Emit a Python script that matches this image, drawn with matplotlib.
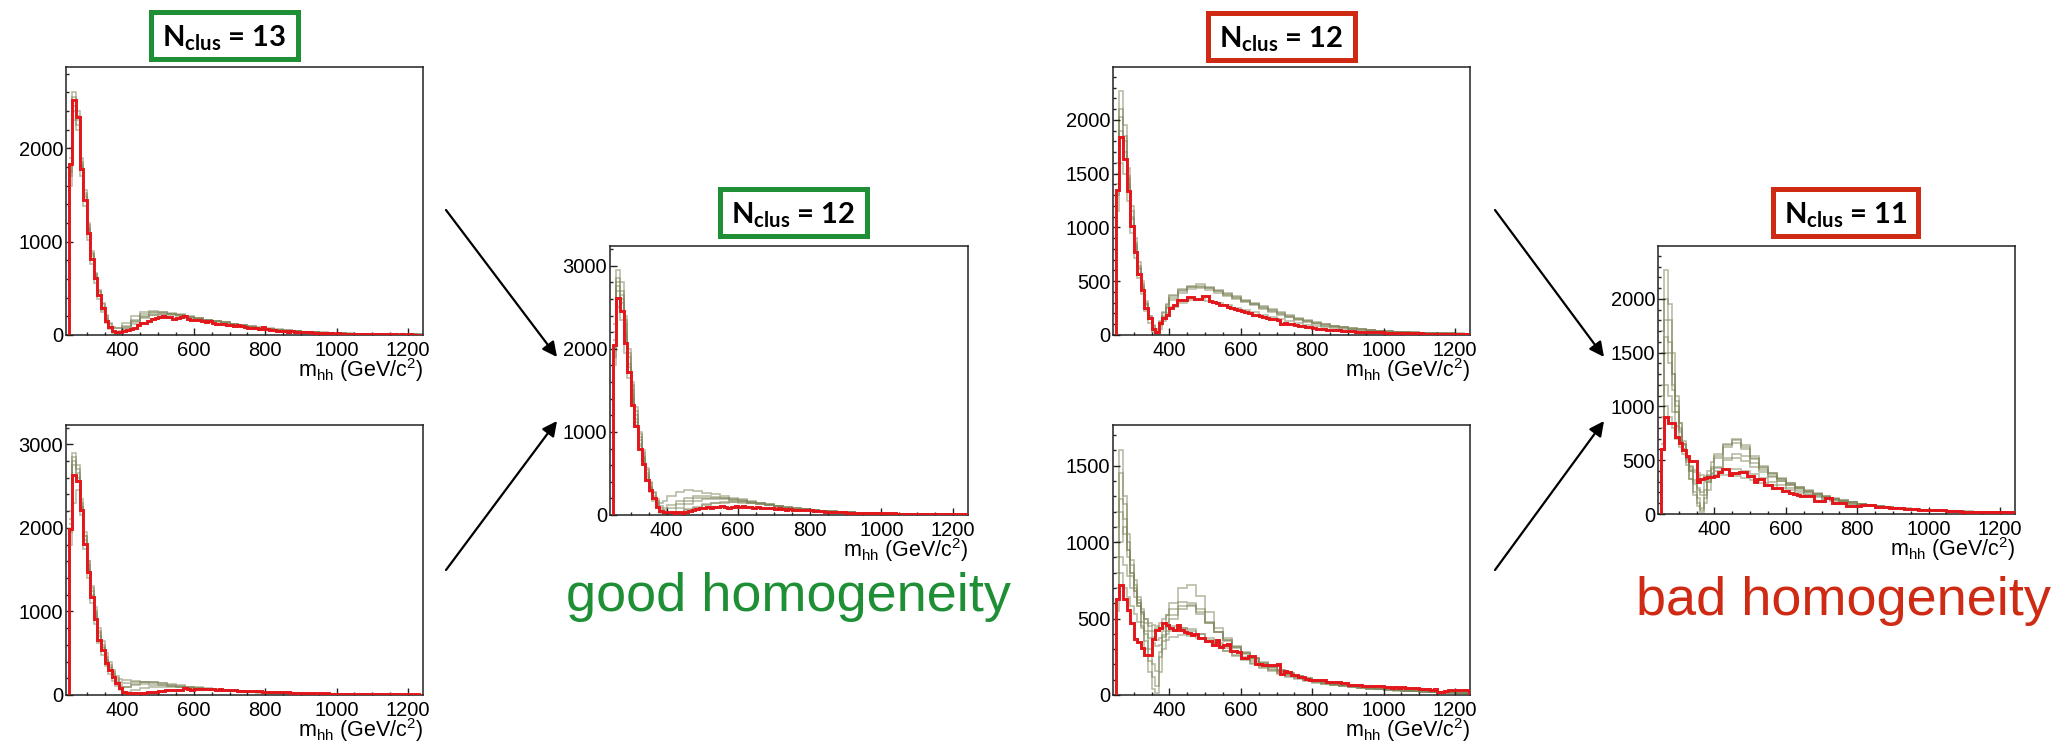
import numpy as np
import matplotlib
matplotlib.use("Agg")
import matplotlib.pyplot as plt
from matplotlib.ticker import MultipleLocator, FixedLocator
from matplotlib.patches import Rectangle, FancyArrowPatch

plt.rcParams['font.family'] = ['Liberation Sans', 'DejaVu Sans']

W, H = 2056, 747

# ---------------- data ----------------
red_edges = np.arange(250, 1241, 10)                                   # 99 bins
gray_edges = np.r_[np.arange(250, 400, 10), np.arange(400, 1251, 25)]  # 49 bins

x_ticks = [400, 600, 800, 1000, 1200]
x_label = r'm$_{\mathregular{hh}}$ (GeV/c$^{\mathregular{2}}$)'

# Panel 1 : N_clus = 13 (top left)
p1_red = [1830, 2520, 2330, 1780, 1450, 1090, 810, 610, 430, 290,
          145, 90, 40, 35, 30, 40, 55, 60, 80, 110,
          125, 130, 150, 175, 180, 195, 200, 195, 190, 170,
          180, 195, 200, 175, 165, 160, 165, 150, 140, 145,
          130, 120, 115, 120, 110, 110, 100, 105, 95, 90,
          80, 75, 80, 60, 85, 60, 55, 50, 45, 40,
          45, 35, 38, 35, 32, 30, 28, 30, 25, 22,
          20, 22, 18, 20, 15, 18, 15, 12, 14, 12,
          10, 12, 10, 9, 12, 10, 8, 7, 8, 6,
          7, 6, 5, 6, 5, 6, 4, 5, 4]
p1_gray = [
    [1750, 2600, 2400, 1900, 1550, 1200, 900, 650, 470, 330, 200, 120, 80, 70, 80,
     130, 200, 250, 260, 250, 235, 220, 200, 185, 165, 150, 135, 120, 105, 92, 80, 68, 58, 50, 43,
     37, 32, 27, 23, 20, 17, 15, 13, 11, 10, 9, 8, 7, 6],
    [1600, 2300, 2250, 1850, 1500, 1150, 870, 640, 460, 300, 170, 90, 40, 30, 40,
     90, 160, 220, 250, 245, 230, 215, 195, 175, 160, 145, 130, 115, 100, 88, 76, 64, 55, 47, 40,
     34, 29, 25, 21, 18, 16, 14, 12, 10, 9, 8, 7, 6, 5],
    [1900, 2450, 2200, 1700, 1380, 1020, 760, 560, 390, 250, 130, 60, 20, 10, 20,
     60, 120, 180, 210, 215, 210, 200, 185, 170, 155, 140, 125, 110, 95, 82, 70, 60, 51, 44, 38,
     32, 27, 23, 20, 17, 15, 13, 11, 10, 9, 8, 7, 6, 5],
    [2000, 2550, 2350, 1800, 1480, 1130, 850, 620, 420, 270, 150, 80, 40, 25, 30,
     70, 140, 200, 235, 240, 230, 210, 195, 180, 165, 150, 135, 120, 105, 90, 78, 66, 56, 48, 41,
     35, 30, 26, 22, 19, 16, 14, 12, 11, 10, 8, 7, 6, 5],
    [1700, 2400, 2300, 1820, 1520, 1180, 880, 660, 480, 340, 210, 130, 90, 80, 70,
     100, 150, 190, 215, 225, 220, 210, 195, 180, 165, 150, 137, 122, 108, 95, 82, 70, 60, 50, 43,
     37, 31, 26, 22, 19, 16, 14, 12, 11, 10, 9, 8, 7, 6],
]

# Panel 2 : (bottom left)
p2_red = [1990, 2630, 2560, 2210, 1810, 1475, 1175, 915, 660, 540,
          380, 300, 220, 140, 80, 40, 28, 25, 25, 28,
          22, 25, 30, 35, 40, 45, 50, 55, 60, 65,
          55, 60, 85, 70, 65, 70, 75, 70, 72, 75,
          70, 65, 68, 62, 60, 55, 58, 52, 50, 48,
          50, 45, 42, 45, 40, 38, 36, 35, 33, 32,
          30, 30, 28, 27, 26, 25, 24, 23, 22, 21,
          20, 19, 18, 17, 17, 16, 15, 15, 14, 13,
          13, 12, 12, 11, 11, 10, 10, 9, 9, 8,
          8, 8, 7, 7, 7, 6, 6, 6, 5]
p2_gray = [
    [2100, 2900, 2750, 2350, 1950, 1600, 1300, 1050, 800, 650, 500, 400, 300, 230, 190,
     180, 170, 160, 150, 140, 130, 115, 100, 90, 80, 70, 60, 52, 45, 39, 34, 30, 27, 24, 21,
     19, 17, 15, 13, 12, 11, 10, 9, 8, 7, 7, 6, 5, 5],
    [1800, 2750, 2700, 2300, 1900, 1550, 1250, 980, 740, 580, 420, 320, 220, 150, 100,
     90, 120, 130, 125, 115, 105, 95, 85, 75, 66, 58, 50, 44, 38, 33, 29, 26, 23, 20, 18,
     16, 14, 13, 12, 11, 10, 9, 8, 7, 7, 6, 5, 5, 4],
    [2200, 2850, 2600, 2150, 1750, 1400, 1100, 850, 620, 480, 350, 250, 170, 110, 60,
     40, 60, 80, 95, 100, 98, 92, 85, 78, 70, 62, 55, 48, 42, 37, 32, 28, 25, 22, 19,
     17, 15, 13, 12, 11, 10, 9, 8, 7, 6, 6, 5, 5, 4],
    [1950, 2300, 2450, 2250, 1900, 1600, 1280, 1000, 760, 600, 460, 360, 270, 200, 150,
     140, 150, 155, 150, 140, 125, 110, 95, 82, 72, 63, 55, 48, 42, 36, 31, 27, 24, 21, 18,
     16, 14, 12, 11, 10, 9, 8, 7, 7, 6, 5, 5, 4, 4],
    [2050, 2800, 2650, 2250, 1850, 1500, 1200, 940, 700, 560, 420, 330, 250, 180, 120,
     100, 130, 150, 140, 125, 112, 100, 90, 80, 70, 62, 54, 47, 41, 36, 31, 27, 24, 21, 18,
     16, 14, 13, 12, 11, 10, 9, 8, 7, 6, 6, 5, 5, 4],
]

# Panel 3 : N_clus = 12 (good, middle)
p3_red = [2050, 2615, 2450, 2065, 1725, 1325, 1065, 800, 615, 420,
          300, 200, 100, 50, 40, 35, 35, 30, 40, 25,
          40, 50, 60, 70, 80, 90, 95, 90, 100, 95,
          105, 100, 90, 95, 110, 100, 105, 95, 100, 90,
          95, 85, 90, 80, 85, 75, 80, 70, 65, 70,
          60, 65, 55, 60, 55, 60, 50, 45, 45, 40,
          40, 38, 35, 35, 32, 30, 30, 28, 27, 26,
          25, 24, 24, 23, 22, 22, 20, 20, 19, 18,
          17, 16, 16, 15, 14, 14, 13, 13, 12, 12,
          11, 11, 10, 10, 10, 9, 9, 8, 8]
p3_gray = [
    [2100, 2950, 2800, 2400, 2000, 1600, 1300, 1000, 780, 560, 400, 280, 190, 150, 170,
     230, 280, 300, 290, 270, 250, 230, 210, 190, 170, 150, 130, 112, 96, 82, 70, 60, 51, 44, 38,
     33, 28, 24, 21, 18, 16, 14, 12, 11, 10, 9, 8, 7, 6],
    [1900, 2750, 2700, 2300, 1900, 1500, 1200, 940, 700, 500, 330, 200, 100, 40, 20,
     30, 80, 130, 170, 190, 195, 190, 180, 165, 150, 135, 120, 105, 90, 78, 67, 57, 49, 42, 36,
     31, 27, 23, 20, 17, 15, 13, 12, 10, 9, 8, 7, 6, 5],
    [2200, 2800, 2550, 2150, 1780, 1400, 1120, 860, 650, 460, 320, 210, 120, 60, 30,
     20, 40, 70, 100, 130, 150, 160, 160, 155, 145, 132, 118, 104, 90, 78, 67, 57, 49, 42, 36,
     31, 27, 23, 20, 17, 15, 13, 12, 10, 9, 8, 7, 6, 5],
    [1800, 2500, 2650, 2350, 1950, 1560, 1250, 980, 750, 540, 380, 260, 170, 110, 90,
     120, 170, 210, 230, 225, 215, 200, 185, 170, 155, 140, 125, 110, 95, 82, 70, 60, 51, 44, 38,
     32, 27, 23, 20, 17, 15, 13, 11, 10, 9, 8, 7, 6, 5],
    [2000, 2850, 2600, 2200, 1820, 1450, 1150, 900, 680, 480, 340, 230, 140, 80, 60,
     80, 130, 170, 200, 210, 210, 200, 190, 175, 160, 145, 130, 114, 99, 85, 72, 62, 53, 45, 39,
     33, 28, 24, 21, 18, 16, 14, 12, 10, 9, 8, 7, 6, 5],
    [2300, 2700, 2350, 1950, 1650, 1350, 1080, 830, 620, 430, 280, 170, 80, 30, 10,
     10, 30, 60, 90, 120, 140, 150, 155, 150, 142, 130, 116, 102, 88, 76, 65, 56, 48, 41, 35,
     30, 26, 22, 19, 16, 14, 12, 11, 10, 9, 8, 7, 6, 5],
]

# Panel 4 : N_clus = 12 (bad, top right)
p4_red = [1350, 1845, 1635, 1335, 1010, 775, 570, 420, 250, 155,
          60, 30, 110, 155, 185, 250, 280, 325, 330, 330,
          350, 350, 335, 335, 360, 365, 320, 310, 300, 280,
          275, 260, 250, 240, 230, 225, 210, 200, 190, 185,
          175, 165, 155, 150, 145, 140, 100, 110, 105, 100,
          95, 85, 80, 75, 70, 65, 60, 55, 55, 50,
          47, 45, 42, 40, 38, 36, 34, 32, 30, 29,
          28, 27, 26, 25, 24, 23, 22, 20, 19, 18,
          17, 16, 15, 15, 14, 14, 13, 12, 12, 11,
          11, 10, 10, 9, 9, 9, 8, 8, 8]
p4_gray = [
    [1600, 2270, 1950, 1550, 1200, 900, 680, 500, 320, 180, 80, 40, 120, 200, 280,
     360, 420, 460, 470, 450, 420, 390, 360, 330, 300, 270, 240, 210, 185, 160, 140, 120, 100, 85, 72,
     62, 54, 47, 41, 36, 32, 28, 25, 22, 20, 18, 16, 14, 12],
    [1500, 2030, 1800, 1450, 1100, 840, 620, 450, 280, 150, 50, 20, 90, 170, 250,
     330, 390, 430, 440, 420, 395, 365, 335, 305, 275, 245, 215, 190, 165, 142, 122, 104, 88, 75, 64,
     55, 48, 42, 37, 32, 28, 25, 22, 19, 17, 15, 13, 12, 11],
    [1150, 1600, 1500, 1250, 950, 720, 530, 380, 220, 110, 30, 10, 60, 130, 200,
     260, 300, 330, 335, 320, 300, 280, 255, 232, 210, 188, 166, 146, 128, 112, 97, 84, 72, 62, 54,
     47, 41, 36, 31, 27, 24, 21, 19, 17, 15, 13, 12, 11, 10],
    [1300, 1900, 1700, 1400, 1080, 820, 610, 450, 300, 180, 90, 60, 130, 210, 290,
     370, 430, 450, 455, 435, 405, 375, 345, 315, 285, 255, 225, 198, 172, 150, 130, 112, 96, 82, 70,
     60, 52, 45, 39, 34, 30, 26, 23, 20, 18, 16, 14, 13, 11],
    [1400, 2100, 1850, 1480, 1150, 860, 640, 470, 290, 160, 60, 30, 100, 180, 260,
     340, 410, 445, 450, 435, 410, 380, 350, 320, 290, 260, 230, 202, 176, 152, 132, 114, 98, 84, 72,
     62, 54, 47, 41, 36, 31, 27, 24, 21, 19, 17, 15, 13, 12],
]

# Panel 5 : (bottom right)
p5_red = [625, 720, 625, 555, 470, 365, 345, 305, 260, 260,
          365, 425, 435, 470, 455, 435, 425, 455, 425, 415,
          405, 390, 400, 375, 370, 355, 355, 325, 360, 315,
          325, 335, 285, 285, 280, 240, 240, 255, 255, 205,
          205, 195, 195, 195, 195, 205, 140, 155, 150, 130,
          130, 120, 120, 105, 100, 100, 100, 98, 95, 87,
          87, 85, 85, 80, 78, 65, 65, 66, 64, 62,
          60, 58, 59, 57, 56, 50, 50, 49, 50, 48,
          50, 47, 48, 46, 45, 37, 37, 36, 35, 36,
          22, 22, 24, 33, 32, 33, 32, 31, 33]
p5_gray = [
    [1200, 1600, 1250, 950, 800, 700, 620, 560, 500, 450, 420, 440, 470, 500, 520,
     560, 610, 600, 530, 470, 410, 360, 315, 275, 240, 210, 184, 160, 140, 122, 106, 93, 82, 72, 64,
     57, 51, 46, 41, 37, 33, 30, 27, 24, 22, 20, 18, 16, 15],
    [900, 1280, 1150, 1000, 850, 720, 600, 480, 350, 220, 120, 60, 250, 420, 520,
     600, 700, 720, 650, 540, 440, 370, 320, 280, 245, 215, 188, 164, 143, 125, 109, 95, 84, 74, 65,
     58, 52, 46, 41, 37, 33, 30, 27, 24, 22, 20, 18, 16, 15],
    [800, 1000, 1100, 950, 800, 680, 580, 450, 300, 150, 40, 10, 150, 300, 420,
     500, 560, 580, 560, 480, 410, 355, 310, 270, 235, 205, 180, 157, 137, 120, 105, 92, 81, 71, 63,
     56, 50, 45, 40, 36, 32, 29, 26, 23, 21, 19, 17, 15, 14],
    [700, 900, 850, 780, 700, 640, 580, 540, 500, 470, 460, 450, 440, 440, 445,
     450, 440, 420, 400, 370, 340, 310, 280, 250, 222, 196, 172, 150, 131, 115, 100, 88, 77, 68, 60,
     53, 47, 42, 38, 34, 30, 27, 24, 22, 20, 18, 16, 15, 14],
    [1000, 1200, 1050, 900, 780, 680, 600, 530, 470, 420, 380, 360, 370, 390, 400,
     420, 440, 430, 400, 360, 320, 285, 255, 228, 202, 178, 156, 137, 120, 105, 92, 81, 71, 63, 56,
     50, 45, 40, 36, 32, 29, 26, 23, 21, 19, 17, 15, 14, 13],
    [550, 800, 700, 640, 580, 530, 480, 440, 400, 370, 340, 320, 330, 350, 360,
     380, 390, 385, 370, 345, 320, 290, 260, 233, 208, 184, 162, 142, 124, 108, 95, 83, 73, 64, 57,
     51, 45, 41, 37, 33, 30, 27, 24, 22, 20, 18, 16, 15, 13],
    [1100, 1450, 1300, 1050, 880, 750, 640, 540, 420, 300, 200, 160, 280, 380, 450,
     520, 580, 590, 540, 470, 410, 360, 315, 276, 242, 212, 186, 162, 142, 124, 108, 95, 83, 73, 65,
     58, 52, 46, 41, 37, 33, 30, 27, 24, 22, 20, 18, 16, 15],
]

# Panel 6 : N_clus = 11 (bad, right)
p6_red = [600, 900, 845, 845, 720, 660, 595, 535, 490, 490,
          300, 330, 335, 345, 345, 350, 395, 415, 415, 365,
          385, 385, 395, 390, 355, 355, 300, 330, 330, 270,
          270, 240, 245, 245, 210, 210, 195, 190, 178, 170,
          168, 165, 165, 125, 125, 125, 145, 145, 100, 100,
          100, 100, 75, 75, 75, 75, 85, 85, 85, 85,
          68, 68, 68, 68, 55, 55, 53, 52, 45, 44,
          43, 42, 38, 37, 37, 36, 37, 36, 35, 35,
          30, 28, 26, 25, 22, 22, 21, 22, 20, 21,
          20, 19, 18, 16, 17, 16, 15, 17, 16]
p6_gray = [
    [1700, 2270, 1800, 1300, 1000, 800, 650, 520, 400, 300, 220, 200, 300, 400, 480,
     560, 650, 700, 640, 540, 450, 385, 335, 290, 252, 220, 192, 167, 146, 127, 111, 97, 85, 75, 66,
     58, 52, 46, 41, 37, 33, 30, 27, 24, 22, 20, 18, 16, 15],
    [1500, 2000, 1950, 1500, 1100, 850, 650, 480, 330, 180, 70, 20, 150, 300, 420,
     520, 620, 660, 600, 510, 430, 370, 322, 280, 244, 213, 186, 162, 142, 124, 108, 95, 83, 73, 64,
     57, 51, 45, 40, 36, 32, 29, 26, 23, 21, 19, 17, 15, 14],
    [1200, 1800, 1600, 1300, 1050, 850, 680, 540, 420, 320, 240, 180, 220, 300, 370,
     440, 500, 520, 490, 440, 390, 345, 305, 268, 236, 207, 181, 158, 138, 121, 106, 93, 82, 72, 63,
     56, 50, 44, 39, 35, 31, 28, 25, 22, 20, 18, 16, 15, 13],
    [900, 1500, 1400, 1150, 950, 780, 640, 520, 400, 280, 150, 40, 100, 220, 340,
     430, 520, 560, 540, 470, 410, 355, 310, 272, 238, 208, 182, 159, 139, 122, 107, 94, 82, 72, 64,
     56, 50, 44, 39, 35, 31, 28, 25, 22, 20, 18, 16, 15, 13],
    [800, 1200, 1100, 950, 820, 700, 600, 510, 440, 390, 350, 330, 340, 360, 380,
     400, 420, 420, 400, 370, 335, 300, 268, 238, 210, 185, 163, 143, 126, 111, 97, 85, 75, 66, 58,
     52, 46, 41, 37, 33, 30, 27, 24, 22, 20, 18, 16, 14, 13],
    [650, 1000, 900, 800, 700, 620, 560, 500, 450, 410, 380, 360, 350, 350, 355,
     360, 360, 350, 335, 315, 292, 268, 244, 220, 197, 176, 156, 138, 122, 108, 95, 84, 74, 65, 58,
     51, 45, 40, 36, 32, 29, 26, 23, 21, 19, 17, 15, 14, 12],
    [1100, 1650, 1500, 1200, 950, 760, 600, 460, 330, 200, 100, 60, 180, 320, 440,
     540, 640, 690, 620, 520, 440, 378, 328, 285, 248, 216, 189, 164, 144, 126, 110, 96, 84, 74, 65,
     58, 51, 45, 40, 36, 32, 29, 26, 23, 21, 19, 17, 15, 14],
]

titles = {0: ('13', 'good'), 2: ('12', 'good'), 3: ('12', 'bad'), 5: ('11', 'bad')}

# ---------------- styling / layout ----------------
GREEN = '#1f8f36'
RED_BOX = '#cf2b14'
RED_LINE = '#e3161b'
GRAY = '#7f855a'

panels = [
    dict(red=p1_red, gray=p1_gray, ymax=2870, major=1000, minor=200, box=(66, 67, 423, 335)),
    dict(red=p2_red, gray=p2_gray, ymax=3230, major=1000, minor=200, box=(66, 425, 423, 695)),
    dict(red=p3_red, gray=p3_gray, ymax=3237, major=1000, minor=200, box=(610, 246, 968, 515)),
    dict(red=p4_red, gray=p4_gray, ymax=2493, major=500, minor=100, box=(1113, 67, 1470, 335)),
    dict(red=p5_red, gray=p5_gray, ymax=1766, major=500, minor=100, box=(1113, 425, 1470, 695)),
    dict(red=p6_red, gray=p6_gray, ymax=2493, major=500, minor=100, box=(1658, 246, 2015, 514)),
]

title_boxes = {0: (151, 12, 298, 59), 2: (720, 189, 867, 236),
               3: (1208, 13, 1355, 60), 5: (1773, 189, 1918, 236)}

fig = plt.figure(figsize=(W / 100, H / 100), dpi=100)
fig.patch.set_facecolor('white')

for i, p in enumerate(panels):
    l, t, r, b = p['box']
    ax = fig.add_axes([l / W, 1 - b / H, (r - l) / W, (b - t) / H])
    for g in p['gray']:
        assert len(g) == len(gray_edges) - 1, (i, len(g))
        ax.stairs(g, gray_edges, baseline=None, color=GRAY, lw=1.2, alpha=0.55)
    assert len(p['red']) == len(red_edges) - 1, (i, len(p['red']))
    ax.stairs(p['red'], red_edges, baseline=0, color=RED_LINE, lw=2.1, zorder=5)
    ax.set_xlim(242, 1242)
    ax.set_ylim(0, p['ymax'])
    ax.xaxis.set_major_locator(FixedLocator(x_ticks))
    ax.xaxis.set_minor_locator(MultipleLocator(50))
    ax.yaxis.set_major_locator(MultipleLocator(p['major']))
    ax.yaxis.set_minor_locator(MultipleLocator(p['minor']))
    ax.tick_params(which='both', direction='in', top=False, right=False,
                   labelsize=14.5, width=1.0, color='#222222')
    ax.tick_params(which='major', length=5)
    ax.tick_params(which='minor', length=2.5)
    ax.tick_params(axis='y', pad=2)
    ax.tick_params(axis='x', pad=4)
    for s in ax.spines.values():
        s.set_linewidth(1.1)
        s.set_color('#222222')
    ax.annotate(x_label, xy=(1, 0), xycoords='axes fraction', xytext=(0, -42),
                textcoords='offset pixels', ha='right', va='baseline', fontsize=15.5)

    if i in title_boxes:
        x0, y0, x1, y1 = title_boxes[i]
        num, kind = titles[i]
        col = GREEN if kind == 'good' else RED_BOX
        fig.add_artist(Rectangle((x0 / W, 1 - y1 / H), (x1 - x0) / W, (y1 - y0) / H,
                                 transform=fig.transFigure, fill=False, ec=col, lw=3.6))
        fig.text((x0 + x1) / 2 / W, 1 - (y0 + y1) / 2 / H - 0.004,
                 r'N$_{\mathregular{clus}}$ = ' + num, ha='center', va='center',
                 fontsize=21, fontweight='bold', family=['Lato', 'DejaVu Sans'])

fig.text(788 / W, 1 - 611 / H, 'good homogeneity', ha='center', va='baseline',
         fontsize=39, color=GREEN)
fig.text(1843 / W, 1 - 615 / H, 'bad homogeneity', ha='center', va='baseline',
         fontsize=39, color=RED_BOX)

arrows = [((446, 210), (557, 357)), ((446, 570), (557, 421)),
          ((1495, 210), (1604, 357)), ((1495, 570), (1604, 421))]
for (xa, ya), (xb, yb) in arrows:
    fig.add_artist(FancyArrowPatch((xa / W, 1 - ya / H), (xb / W, 1 - yb / H),
                                   transform=fig.transFigure, arrowstyle='-|>',
                                   mutation_scale=22, lw=1.6, color='black',
                                   shrinkA=0, shrinkB=0))

fig.savefig('out.png', dpi=100)
